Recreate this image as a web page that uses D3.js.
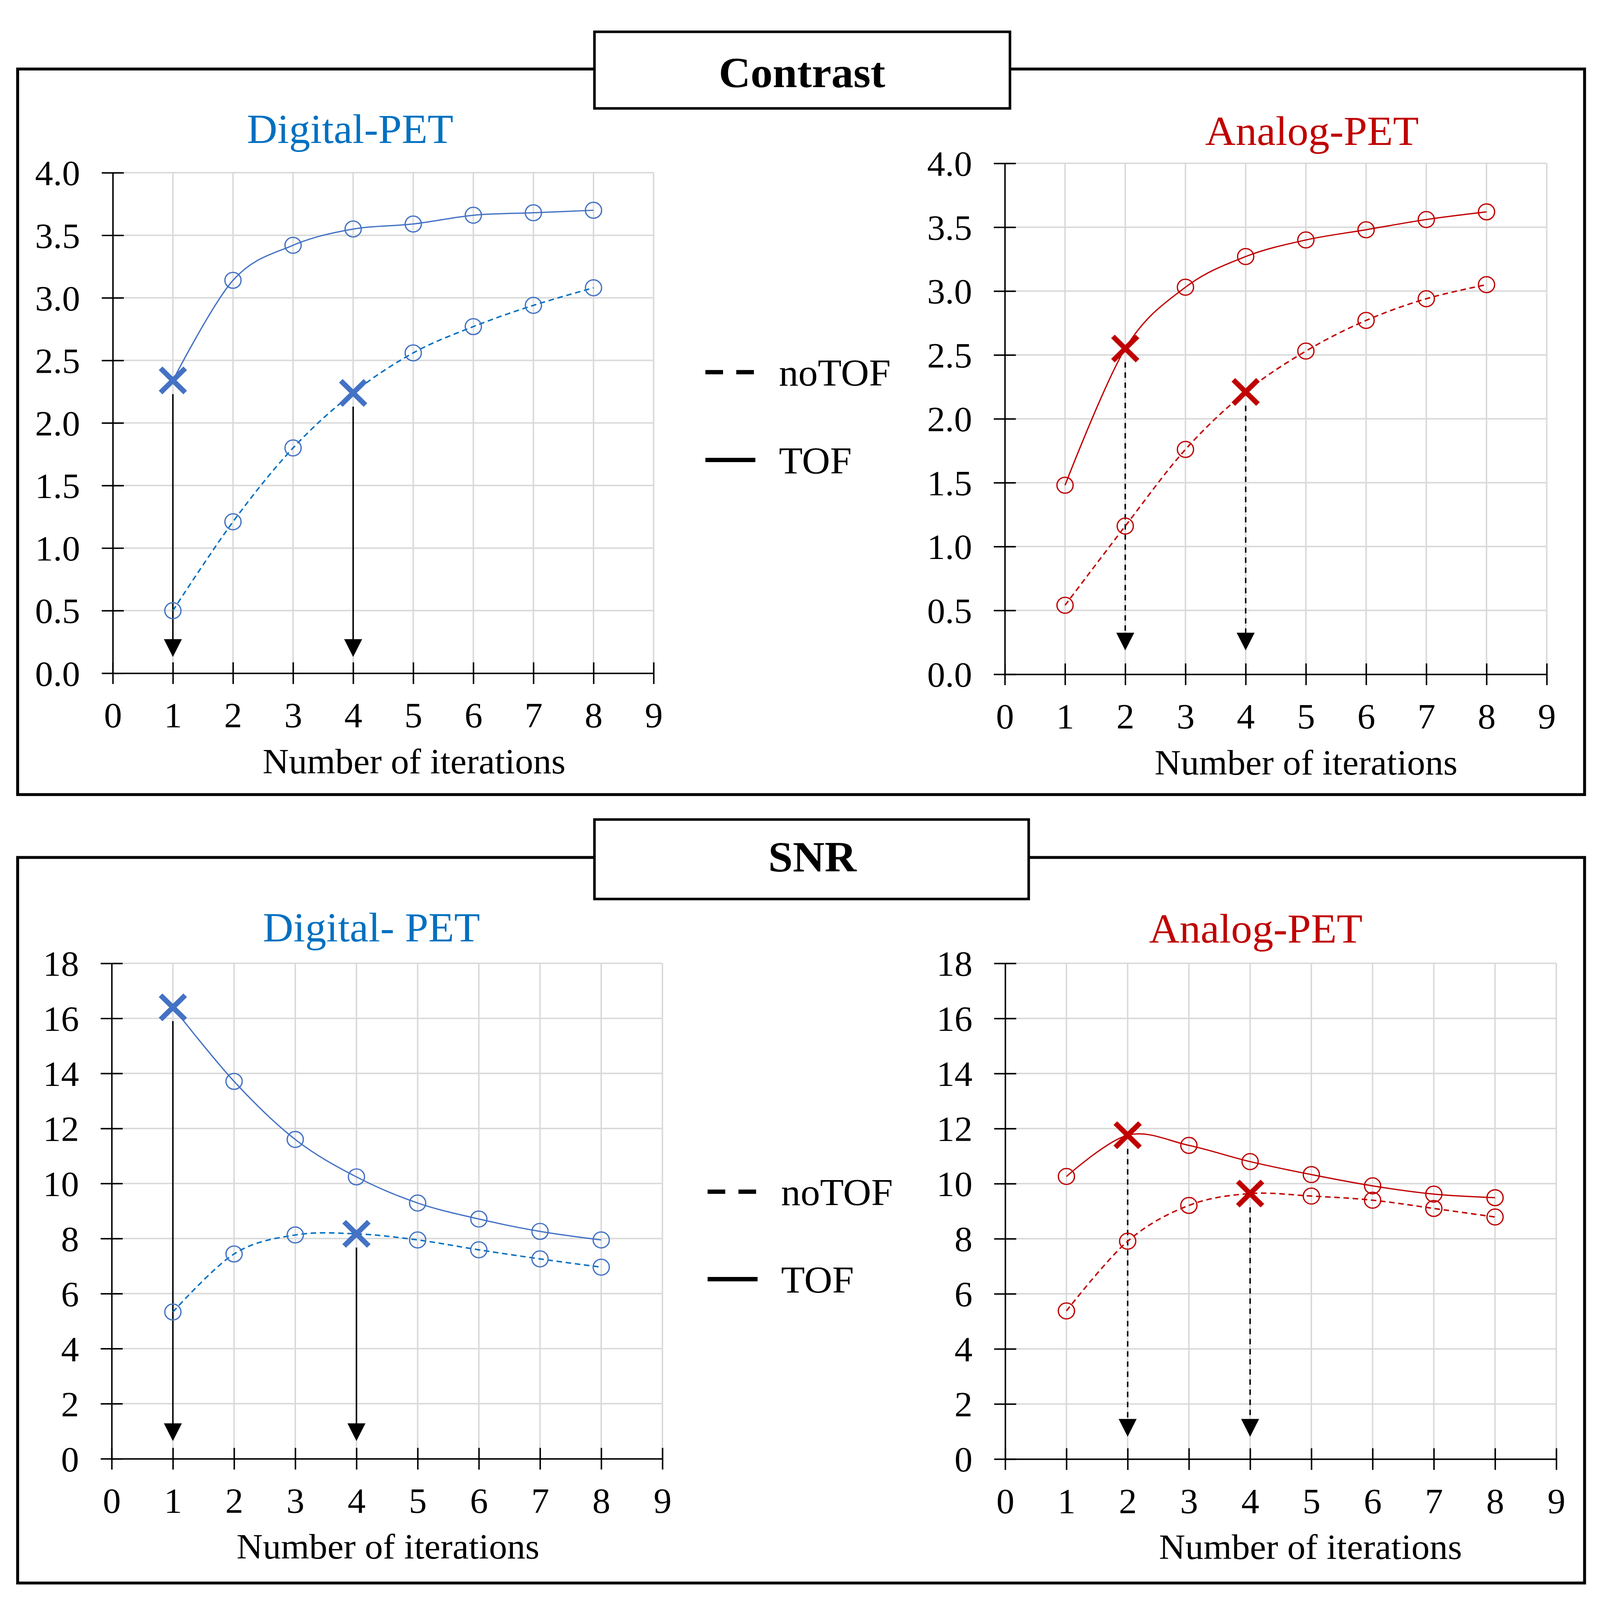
<!DOCTYPE html>
<html>
<head>
<meta charset="utf-8">
<script src="https://cdn.jsdelivr.net/npm/d3@7"></script>
<style>
html,body{margin:0;padding:0;background:#fff;width:100%;height:100%;overflow:hidden;}
svg{display:block;position:absolute;left:0;top:0;width:100vw;height:100vh;}
</style>
</head>
<body>
<script>
// ---------------- DATA ----------------
const iterations = [1, 2, 3, 4, 5, 6, 7, 8];
const xTicks = [0, 1, 2, 3, 4, 5, 6, 7, 8, 9];
const contrastTicks = [0, 0.5, 1, 1.5, 2, 2.5, 3, 3.5, 4];
const snrTicks = [0, 2, 4, 6, 8, 10, 12, 14, 16, 18];

const contrastDigitalTOF   = [2.34, 3.14, 3.42, 3.55, 3.59, 3.66, 3.68, 3.70];
const contrastDigitalNoTOF = [0.50, 1.21, 1.80, 2.24, 2.56, 2.77, 2.94, 3.08];
const contrastAnalogTOF    = [1.48, 2.55, 3.03, 3.27, 3.40, 3.48, 3.56, 3.62];
const contrastAnalogNoTOF  = [0.54, 1.16, 1.76, 2.21, 2.53, 2.77, 2.94, 3.05];

const snrDigitalTOF   = [16.40, 13.71, 11.60, 10.24, 9.29, 8.71, 8.26, 7.95];
const snrDigitalNoTOF = [5.33, 7.44, 8.13, 8.17, 7.95, 7.59, 7.26, 6.96];
const snrAnalogTOF    = [10.26, 11.76, 11.39, 10.80, 10.33, 9.92, 9.62, 9.49];
const snrAnalogNoTOF  = [5.38, 7.91, 9.21, 9.64, 9.55, 9.40, 9.10, 8.79];

// iteration highlighted with an X marker (and arrow) per series
const digitalHighlightTOF = 1, digitalHighlightNoTOF = 4;
const analogHighlightTOF = 2, analogHighlightNoTOF = 4;

const panelTitles = ["Contrast", "SNR"];
const chartTitles = ["Digital-PET", "Analog-PET", "Digital- PET", "Analog-PET"];
const legendLabels = ["noTOF", "TOF"];
const xAxisTitle = "Number of iterations";

// ---------------- STYLE / LAYOUT ----------------
const FONT = "'Liberation Serif','Times New Roman',Times,serif";
const BLUE_TITLE = "#0070C0", BLUE = "#4472C4", BLUE_DASH = "#0070C0", RED = "#C00000";
const GRID = "#D9D9D9";

const W = 4355, H = 4428;
const svg = d3.select("body").append("svg")
  .attr("viewBox", `0 0 ${W} ${H}`)
  .attr("preserveAspectRatio", "none");
svg.append("rect").attr("width", W).attr("height", H).attr("fill", "#fff");

// panels (frames + title boxes)
const panels = [
  {x: 48, y: 191, w: 4265, h: 2008, bx: 1618, by: 88, bw: 1131, bh: 212, tx: 2183, ty: 241, title: panelTitles[0],
   legend: {x1: 1920, x2: 2056, yDash: 1030, ySolid: 1273, tx: 2120, dy: 37}},
  {x: 48, y: 2373, w: 4265, h: 2008, bx: 1618, by: 2268, bw: 1182, bh: 220, tx: 2211, ty: 2412, title: panelTitles[1],
   legend: {x1: 1926, x2: 2062, yDash: 3298, ySolid: 3540, tx: 2126, dy: 37}}
];

panels.forEach(p => {
  svg.append("rect").attr("x", p.x).attr("y", p.y).attr("width", p.w).attr("height", p.h)
    .attr("fill", "none").attr("stroke", "#000").attr("stroke-width", 8);
  svg.append("rect").attr("x", p.bx).attr("y", p.by).attr("width", p.bw).attr("height", p.bh)
    .attr("fill", "#fff").attr("stroke", "#000").attr("stroke-width", 7);
  svg.append("text").attr("x", p.tx).attr("y", p.ty).attr("text-anchor", "middle")
    .attr("font-family", FONT).attr("font-weight", "bold").attr("font-size", 120).attr("fill", "#000")
    .text(p.title);
  // legend
  const L = p.legend;
  svg.append("line").attr("x1", L.x1).attr("x2", L.x2).attr("y1", L.yDash).attr("y2", L.yDash)
    .attr("stroke", "#000").attr("stroke-width", 12).attr("stroke-dasharray", "48,36");
  svg.append("line").attr("x1", L.x1).attr("x2", L.x2).attr("y1", L.ySolid).attr("y2", L.ySolid)
    .attr("stroke", "#000").attr("stroke-width", 12);
  svg.append("text").attr("x", L.tx).attr("y", L.yDash + L.dy).attr("font-family", FONT)
    .attr("font-size", 106).attr("fill", "#000").text(legendLabels[0]);
  svg.append("text").attr("x", L.tx).attr("y", L.ySolid + L.dy).attr("font-family", FONT)
    .attr("font-size", 106).attr("fill", "#000").text(legendLabels[1]);
});

const charts = [
  {left: 307, right: 1779, top: 478, bottom: 1863, domain: [0, 4], ticks: contrastTicks, fmt: d3.format(".1f"),
   title: chartTitles[0], titleColor: BLUE_TITLE, titleX: 953, titleY: 396, axX: 1127, axY: 2140,
   solidColor: BLUE, dashColor: BLUE_DASH, markColor: BLUE,
   tof: contrastDigitalTOF, notof: contrastDigitalNoTOF, hTOF: digitalHighlightTOF, hNoTOF: digitalHighlightNoTOF,
   tipGap: 45, arrowDash: null},
  {left: 2735, right: 4210, top: 452, bottom: 1866, domain: [0, 4], ticks: contrastTicks, fmt: d3.format(".1f"),
   title: chartTitles[1], titleColor: RED, titleX: 3571, titleY: 401, axX: 3555, axY: 2144,
   solidColor: RED, dashColor: RED, markColor: RED,
   tof: contrastAnalogTOF, notof: contrastAnalogNoTOF, hTOF: analogHighlightTOF, hNoTOF: analogHighlightNoTOF,
   tipGap: 66, arrowDash: "15,13"},
  {left: 304, right: 1803, top: 2666, bottom: 4037, domain: [0, 18], ticks: snrTicks, fmt: d3.format("d"),
   title: chartTitles[2], titleColor: BLUE_TITLE, titleX: 1011, titleY: 2605, axX: 1056, axY: 4313,
   solidColor: BLUE, dashColor: BLUE_DASH, markColor: BLUE,
   tof: snrDigitalTOF, notof: snrDigitalNoTOF, hTOF: digitalHighlightTOF, hNoTOF: digitalHighlightNoTOF,
   tipGap: 49, arrowDash: null},
  {left: 2736, right: 4236, top: 2666, bottom: 4038, domain: [0, 18], ticks: snrTicks, fmt: d3.format("d"),
   title: chartTitles[3], titleColor: RED, titleX: 3418, titleY: 2609, axX: 3567, axY: 4315,
   solidColor: RED, dashColor: RED, markColor: RED,
   tof: snrAnalogTOF, notof: snrAnalogNoTOF, hTOF: analogHighlightTOF, hNoTOF: analogHighlightNoTOF,
   tipGap: 62, arrowDash: "15,13"}
];

function drawChart(c) {
  const x = d3.scaleLinear().domain([0, 9]).range([c.left, c.right]);
  const y = d3.scaleLinear().domain(c.domain).range([c.bottom, c.top]);
  const g = svg.append("g");

  // gridlines
  g.selectAll("line.vgrid").data(xTicks.slice(1)).join("line").attr("class", "vgrid")
    .attr("x1", d => x(d)).attr("x2", d => x(d)).attr("y1", y(c.domain[1])).attr("y2", y(c.domain[0]))
    .attr("stroke", GRID).attr("stroke-width", 4);
  g.selectAll("line.hgrid").data(c.ticks.slice(1)).join("line").attr("class", "hgrid")
    .attr("x1", x(0)).attr("x2", x(9)).attr("y1", d => y(d)).attr("y2", d => y(d))
    .attr("stroke", GRID).attr("stroke-width", 4);

  // axes
  const xa = g.append("g").attr("transform", `translate(0,${y(0)})`)
    .call(d3.axisBottom(x).tickValues(xTicks).tickSize(30).tickSizeOuter(0).tickFormat(d3.format("d")));
  xa.select(".domain").attr("stroke", "#000").attr("stroke-width", 4);
  xa.selectAll(".tick line").attr("y1", -30).attr("y2", 30).attr("stroke", "#000").attr("stroke-width", 4);
  xa.selectAll(".tick text").attr("y", 150).attr("dy", null)
    .attr("font-family", FONT).attr("font-size", 98).attr("fill", "#000");

  const ya = g.append("g").attr("transform", `translate(${x(0)},0)`)
    .call(d3.axisLeft(y).tickValues(c.ticks).tickSize(30).tickSizeOuter(0).tickFormat(c.fmt));
  ya.select(".domain").attr("stroke", "#000").attr("stroke-width", 4);
  ya.selectAll(".tick line").attr("x1", 30).attr("x2", -30).attr("stroke", "#000").attr("stroke-width", 4);
  ya.selectAll(".tick text").attr("x", -89).attr("dy", "0.35em")
    .attr("font-family", FONT).attr("font-size", 98).attr("fill", "#000");

  // titles
  g.append("text").attr("x", c.titleX).attr("y", c.titleY).attr("text-anchor", "middle")
    .attr("font-family", FONT).attr("font-size", 115).attr("fill", c.titleColor).text(c.title);
  g.append("text").attr("x", c.axX).attr("y", c.axY).attr("text-anchor", "middle")
    .attr("font-family", FONT).attr("font-size", 99).attr("fill", "#000").text(xAxisTitle);

  // arrows from highlighted points down to x axis
  const tipY = y(0) - c.tipGap;
  [[c.hTOF, c.tof], [c.hNoTOF, c.notof]].forEach(([it, vals]) => {
    const px = x(it), py = y(vals[iterations.indexOf(it)]);
    g.append("line").attr("x1", px).attr("x2", px).attr("y1", py + 38).attr("y2", tipY - 45)
      .attr("stroke", "#000").attr("stroke-width", 4)
      .attr("stroke-dasharray", c.arrowDash);
    g.append("path")
      .attr("d", `M${px - 24.5},${tipY - 49}L${px + 24.5},${tipY - 49}L${px},${tipY}Z`)
      .attr("fill", "#000");
  });

  // lines
  const line = d3.line().x(d => x(d.i)).y(d => y(d.v)).curve(d3.curveCardinal.tension(0));
  const tofData = iterations.map((i, k) => ({i, v: c.tof[k]}));
  const noData = iterations.map((i, k) => ({i, v: c.notof[k]}));
  g.append("path").attr("d", line(noData)).attr("fill", "none").attr("stroke", c.dashColor)
    .attr("stroke-width", 4).attr("stroke-dasharray", "15,10");
  g.append("path").attr("d", line(tofData)).attr("fill", "none").attr("stroke", c.solidColor)
    .attr("stroke-width", 3.5);

  // markers
  [[tofData, c.hTOF], [noData, c.hNoTOF]].forEach(([data, h]) => {
    g.selectAll(null).data(data.filter(d => d.i !== h)).join("circle")
      .attr("cx", d => x(d.i)).attr("cy", d => y(d.v)).attr("r", 22)
      .attr("fill", "none").attr("stroke", c.markColor).attr("stroke-width", 3.5);
    const hd = data.filter(d => d.i === h);
    const a = 33.5;
    g.selectAll(null).data(hd).join("path")
      .attr("d", d => {
        const cx = x(d.i), cy = y(d.v);
        return `M${cx - a},${cy - a}L${cx + a},${cy + a}M${cx - a},${cy + a}L${cx + a},${cy - a}`;
      })
      .attr("stroke", c.markColor).attr("stroke-width", 14).attr("fill", "none");
  });
}

charts.forEach(drawChart);
</script>
</body>
</html>
